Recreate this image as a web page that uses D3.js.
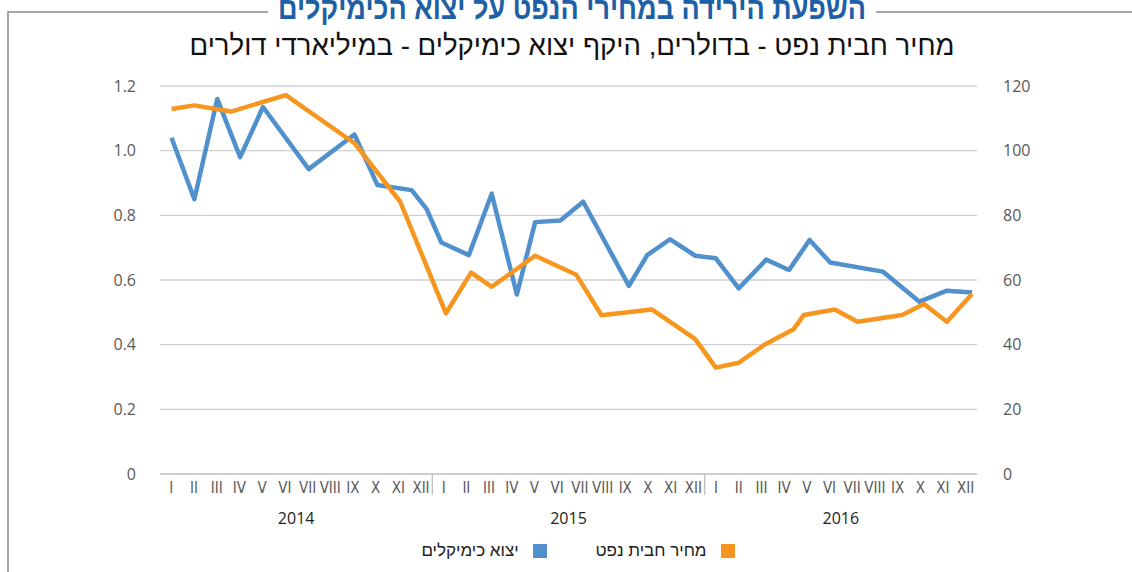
<!DOCTYPE html>
<html>
<head>
<meta charset="utf-8">
<script src="https://cdn.jsdelivr.net/npm/d3@7"></script>
<style>
  body { margin: 0; background: #fff; }
  svg { display: block; }
  .axis text { font-family: "Open Sans", "Noto Sans", sans-serif; fill: #595959; }
  .month text { font-family: "Liberation Sans Narrow", "DejaVu Sans Condensed", sans-serif; fill: #595959; }
</style>
</head>
<body>
<div id="chart"></div>
<script>
// data, x = month position (0 = Jan 2014)
var years = ["2014", "2015", "2016"];
var months = ["I", "II", "III", "IV", "V", "VI", "VII", "VIII", "IX", "X", "XI", "XII"];

// chemical exports, billions of dollars (left axis)
var chemPos  = [0, 1, 2, 3, 4, 6, 8, 9, 10.5, 11.15, 11.8, 13, 14, 15.1, 15.9, 17, 18, 20, 20.8, 21.8, 22.9, 23.8, 24.8, 26, 27, 27.9, 28.8, 31.1, 32.7, 33.9, 35];
var chemVals = [1.04, 0.85, 1.16, 0.98, 1.135, 0.943, 1.05, 0.894, 0.878, 0.82, 0.716, 0.677, 0.867, 0.555, 0.779, 0.784, 0.842, 0.582, 0.677, 0.726, 0.675, 0.667, 0.574, 0.663, 0.631, 0.724, 0.654, 0.626, 0.533, 0.567, 0.561];

// oil barrel price, dollars (right axis)
var oilPos  = [0, 1, 2.6, 5, 8, 10, 12, 13.1, 14, 15.9, 17.7, 18.8, 21, 22.9, 23.8, 24.8, 25.9, 27.2, 27.65, 29, 30, 31.95, 32.9, 33.9, 35];
var oilVals = [112.9, 114, 112.1, 117.2, 102.3, 84.2, 49.7, 62.3, 57.9, 67.5, 61.6, 49.1, 50.9, 41.7, 32.9, 34.4, 39.9, 44.8, 49.2, 50.9, 47.1, 49.2, 52.6, 47.1, 55.7];

var leftTicks  = [0, 0.2, 0.4, 0.6, 0.8, 1.0, 1.2];
var rightTicks = [0, 20, 40, 60, 80, 100, 120];

var title = "השפעת הירידה במחירי הנפט על יצוא הכימיקלים";
var subtitle = "מחיר חבית נפט - בדולרים, היקף יצוא כימיקלים - במיליארדי דולרים";
var seriesNames = ["יצוא כימיקלים", "מחיר חבית נפט"];
var colors = ["#4f90cd", "#f7961f"];

var outerWidth = 1132, outerHeight = 572;
var plot = { left: 160, right: 977, top: 86, bottom: 474 };

var svg = d3.select("#chart").append("svg")
  .attr("width", outerWidth)
  .attr("height", outerHeight);

// frame round the chart
svg.append("path")
  .attr("d", "M8,572 V12 H268 M876,12 H1132")
  .attr("fill", "none")
  .attr("stroke", "#a6a6a6")
  .attr("stroke-width", 2);

svg.append("text")
  .attr("x", 572).attr("y", 19)
  .attr("text-anchor", "middle")
  .attr("direction", "rtl")
  .attr("textLength", 588).attr("lengthAdjust", "spacingAndGlyphs")
  .style("font-family", "'Liberation Sans Narrow', 'Liberation Sans', sans-serif")
  .style("font-weight", "bold")
  .style("font-size", "31px")
  .style("fill", "#1d60a6")
  .text(title);

svg.append("text")
  .attr("x", 572).attr("y", 55)
  .attr("text-anchor", "middle")
  .attr("direction", "rtl")
  .attr("textLength", 765).attr("lengthAdjust", "spacingAndGlyphs")
  .style("font-family", "'Liberation Sans Narrow', 'Liberation Sans', sans-serif")
  .style("font-size", "28px")
  .style("fill", "#111")
  .text(subtitle);

// scales
var xBand = d3.scaleBand().domain(d3.range(36)).range([plot.left, plot.right]);
var xPos = d3.scaleLinear().domain([0, 35]).range([171.5, 972]);
var yLeft = d3.scaleLinear().domain([0, 1.2]).range([plot.bottom, plot.top]);
var yRight = d3.scaleLinear().domain([0, 120]).range([plot.bottom, plot.top]);

// gridlines
svg.append("g").selectAll("line")
  .data(leftTicks.slice(1))
  .enter().append("line")
  .attr("x1", plot.left).attr("x2", plot.right)
  .attr("y1", function(d) { return yLeft(d); })
  .attr("y2", function(d) { return yLeft(d); })
  .attr("stroke", "#d0d0d0")
  .attr("stroke-width", 1.3);

// left axis
var leftAxis = svg.append("g")
  .attr("class", "axis")
  .attr("transform", "translate(" + plot.left + ",0)")
  .call(d3.axisLeft(yLeft).tickValues(leftTicks).tickSize(0).tickPadding(24)
    .tickFormat(function(d) { return d === 0 ? "0" : d3.format(".1f")(d); }));
leftAxis.select(".domain").remove();
leftAxis.selectAll("text").style("font-size", "16px");

// right axis
var rightAxis = svg.append("g")
  .attr("class", "axis")
  .attr("transform", "translate(" + plot.right + ",0)")
  .call(d3.axisRight(yRight).tickValues(rightTicks).tickSize(0).tickPadding(26));
rightAxis.select(".domain").remove();
rightAxis.selectAll("text").style("font-size", "16px");

// bottom axis with months
svg.append("line")
  .attr("x1", plot.left).attr("x2", plot.right)
  .attr("y1", plot.bottom).attr("y2", plot.bottom)
  .attr("stroke", "#bfbfbf").attr("stroke-width", 1.3);

var monthAxis = svg.append("g")
  .attr("class", "month")
  .attr("transform", "translate(0," + plot.bottom + ")")
  .call(d3.axisBottom(xBand).tickSize(0).tickPadding(8)
    .tickFormat(function(d) { return months[d % 12]; }));
monthAxis.select(".domain").remove();
monthAxis.selectAll("text").style("font-size", "15px");

// year separators
svg.append("g").selectAll("line")
  .data([1, 2])
  .enter().append("line")
  .attr("x1", function(d) { return xBand(d * 12); })
  .attr("x2", function(d) { return xBand(d * 12); })
  .attr("y1", plot.bottom).attr("y2", plot.bottom + 21)
  .attr("stroke", "#bfbfbf").attr("stroke-width", 1.3);

svg.append("g").selectAll("text")
  .data(years)
  .enter().append("text")
  .attr("x", function(d, i) { return xBand(i * 12) + xBand.step() * 6; })
  .attr("y", 524)
  .attr("text-anchor", "middle")
  .style("font-family", "'Open Sans', 'Noto Sans', sans-serif")
  .style("font-size", "16px")
  .style("fill", "#222")
  .text(function(d) { return d; });

// lines
var chemLine = d3.line()
  .x(function(d) { return xPos(d[0]); })
  .y(function(d) { return yLeft(d[1]); });
var oilLine = d3.line()
  .x(function(d) { return xPos(d[0]); })
  .y(function(d) { return yRight(d[1]); });

svg.append("path")
  .datum(d3.zip(chemPos, chemVals))
  .attr("d", chemLine)
  .attr("fill", "none")
  .attr("stroke", colors[0])
  .attr("stroke-width", 4.5)
  .attr("stroke-linejoin", "round");

svg.append("path")
  .datum(d3.zip(oilPos, oilVals))
  .attr("d", oilLine)
  .attr("fill", "none")
  .attr("stroke", colors[1])
  .attr("stroke-width", 4.5)
  .attr("stroke-linejoin", "round");

// legend
var legendItems = [
  { name: seriesNames[0], color: colors[0], box: 533, text: 470 },
  { name: seriesNames[1], color: colors[1], box: 721, text: 651 }
];
var legend = svg.append("g").attr("class", "legend");
legend.selectAll("rect")
  .data(legendItems)
  .enter().append("rect")
  .attr("x", function(d) { return d.box; })
  .attr("y", 544)
  .attr("width", 14).attr("height", 14)
  .attr("fill", function(d) { return d.color; });
legend.selectAll("text")
  .data(legendItems)
  .enter().append("text")
  .attr("x", function(d) { return d.text; })
  .attr("y", 556)
  .attr("text-anchor", "middle")
  .attr("direction", "rtl")
  .style("font-family", "'Liberation Sans', sans-serif")
  .style("font-size", "17px")
  .style("fill", "#222")
  .text(function(d) { return d.name; });
</script>
</body>
</html>
